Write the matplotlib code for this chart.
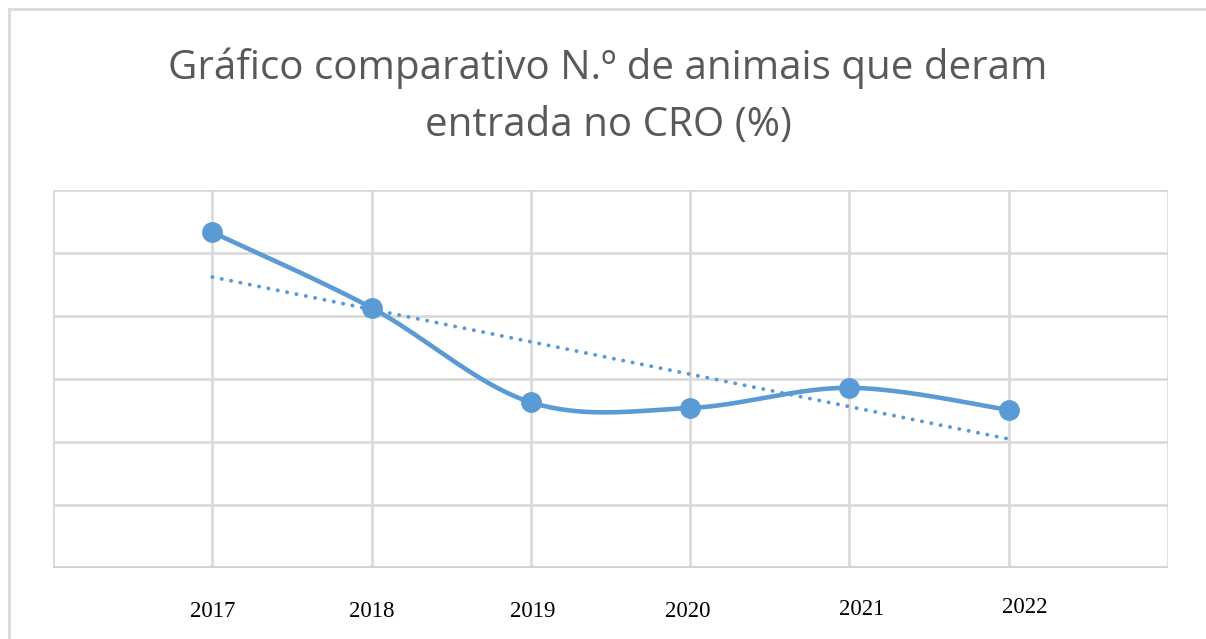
import matplotlib
matplotlib.use("Agg")
import matplotlib.pyplot as plt
import matplotlib.transforms as mtransforms
from matplotlib.lines import Line2D
import numpy as np

# data (percent, gridlines every 10)
years = ["2017", "2018", "2019", "2020", "2021", "2022"]
values = [53.3, 41.3, 26.3, 25.4, 28.6, 25.1]

title = "Gráfico comparativo N.º de animais que deram\nentrada no CRO (%)"

BLUE = "#5B9BD5"
GRID = "#D9D9D9"


# excel-like smoothed line (bezier through the points)
def smooth_curve(x, y, n=40):
    pts = np.column_stack([x, y]).astype(float)
    ext = np.vstack([pts[0], pts, pts[-1]])
    out = []
    for i in range(len(pts) - 1):
        p0, p3 = ext[i + 1], ext[i + 2]
        p1 = p0 + (ext[i + 2] - ext[i]) / 6.0
        p2 = p3 - (ext[i + 3] - ext[i + 1]) / 6.0
        t = np.linspace(0, 1, n)[:, None]
        seg = (1 - t) ** 3 * p0 + 3 * (1 - t) ** 2 * t * p1 + 3 * (1 - t) * t ** 2 * p2 + t ** 3 * p3
        out.append(seg if i == 0 else seg[1:])
    out = np.vstack(out)
    return out[:, 0], out[:, 1]


fig = plt.figure(figsize=(12.06, 6.39), dpi=100)
W, H = 1206, 639
ax = fig.add_axes([53 / W, 1 - 568 / H, 1115 / W, 378 / H])

xs = np.arange(len(years))

# gridlines
for gx in range(-1, len(years) + 1):
    ax.axvline(gx, color=GRID, lw=1.9, zorder=1)
for gy in range(10, 61, 10):
    ax.axhline(gy, color=GRID, lw=1.9, zorder=1)
ax.axhline(0, color="#CFCFCF", lw=2.6, zorder=2)

sx, sy = smooth_curve(xs, values)
ax.plot(sx, sy, color=BLUE, lw=3.3, solid_capstyle="round", zorder=3)
ax.plot(xs, values, "o", color=BLUE, ms=14, zorder=4)

# linear trendline
k, b = np.polyfit(xs, values, 1)
ax.plot(xs, k * xs + b, color=BLUE, lw=2.8, linestyle=(0, (0.05, 2.4)),
        dash_capstyle="round", zorder=3)

ax.set_xlim(-1, len(years))
ax.set_ylim(0, 60)
for s in ax.spines.values():
    s.set_visible(False)
ax.set_yticks([])
ax.set_xticks(xs)
ax.set_xticklabels(years, fontfamily="Liberation Serif", fontsize=16.5, color="black")
ax.tick_params(axis="x", length=0, pad=24)

# the last labels sit slightly off their gridlines in the original
shifts = {2: (2, 0), 3: (-2, 0), 4: (12, 2), 5: (16, 4)}
for i, lab in enumerate(ax.get_xticklabels()):
    if i in shifts:
        dx, dy = shifts[i]
        lab.set_transform(lab.get_transform() + mtransforms.ScaledTranslation(dx / 100, dy / 100, fig.dpi_scale_trans))

fig.text(608 / W, 1 - 97 / H, title, ha="center", va="center", fontsize=29,
         fontfamily="Open Sans", color="#595959", linespacing=1.55)

# outer chart border (top and left only visible)
fig.add_artist(Line2D([9 / W, 1], [1 - 9 / H, 1 - 9 / H], transform=fig.transFigure, color=GRID, lw=2))
fig.add_artist(Line2D([9 / W, 9 / W], [0, 1 - 9 / H], transform=fig.transFigure, color=GRID, lw=2))

fig.savefig("out.png", dpi=100)
